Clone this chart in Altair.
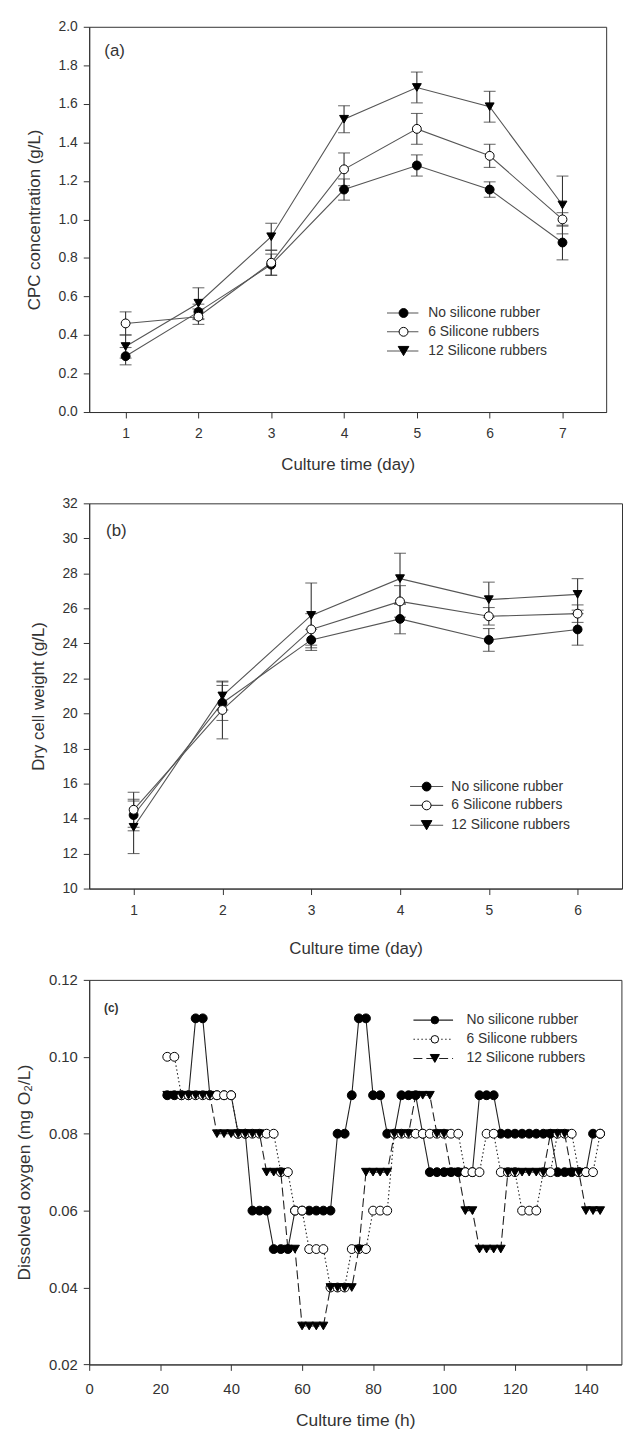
import altair as alt
import pandas as pd

FONT = "Liberation Sans"
INK = "#333333"
SERIES = ["No silicone rubber", "6 Silicone rubbers", "12 Silicone rubbers"]

# ---------------- (a) CPC concentration ----------------
days_a = [1, 2, 3, 4, 5, 6, 7]
cpc_none = [0.29, 0.52, 0.765, 1.155, 1.28, 1.155, 0.88]
cpc_none_err = [0.045, 0.04, 0.055, 0.055, 0.055, 0.04, 0.09]
cpc_six = [0.46, 0.495, 0.775, 1.26, 1.47, 1.33, 1.0]
cpc_six_err = [0.06, 0.04, 0.065, 0.085, 0.08, 0.06, 0.035]
cpc_twelve = [0.34, 0.565, 0.91, 1.52, 1.685, 1.585, 1.075]
cpc_twelve_err = [0.06, 0.08, 0.07, 0.07, 0.08, 0.08, 0.15]
ticks_a_y = [0.0, 0.2, 0.4, 0.6, 0.8, 1.0, 1.2, 1.4, 1.6, 1.8, 2.0]

# ---------------- (b) Dry cell weight ----------------
days_b = [1, 2, 3, 4, 5, 6]
dcw_none = [14.2, 20.6, 24.2, 25.4, 24.2, 24.8]
dcw_none_err = [0.9, 1.0, 0.6, 0.85, 0.65, 0.9]
dcw_six = [14.5, 20.2, 24.8, 26.4, 25.55, 25.7]
dcw_six_err = [1.0, 1.65, 0.9, 0.9, 0.5, 0.5]
dcw_twelve = [13.5, 21.0, 25.6, 27.7, 26.5, 26.8]
dcw_twelve_err = [1.5, 0.8, 1.85, 1.45, 1.0, 0.9]
ticks_b_y = [10, 12, 14, 16, 18, 20, 22, 24, 26, 28, 30, 32]

# ---------------- (c) Dissolved oxygen ----------------
hours_c = [22, 24, 26, 28, 30, 32, 34, 36, 38, 40,
           42, 44, 46, 48, 50, 52, 54, 56, 58, 60,
           62, 64, 66, 68, 70, 72, 74, 76, 78, 80,
           82, 84, 86, 88, 90, 92, 94, 96, 98, 100,
           102, 104, 106, 108, 110, 112, 114, 116, 118, 120,
           122, 124, 126, 128, 130, 132, 134, 136, 138, 140,
           142, 144]
do_none = [0.09, 0.09, 0.09, 0.09, 0.11, 0.11, 0.09, 0.09, 0.09, 0.09,
           0.08, 0.08, 0.06, 0.06, 0.06, 0.05, 0.05, 0.05, 0.06, 0.06,
           0.06, 0.06, 0.06, 0.06, 0.08, 0.08, 0.09, 0.11, 0.11, 0.09,
           0.09, 0.08, 0.08, 0.09, 0.09, 0.09, 0.08, 0.07, 0.07, 0.07,
           0.07, 0.07, 0.07, 0.07, 0.09, 0.09, 0.09, 0.08, 0.08, 0.08,
           0.08, 0.08, 0.08, 0.08, 0.08, 0.07, 0.07, 0.07, 0.07, 0.07,
           0.08, 0.08]
do_six = [0.10, 0.10, 0.09, 0.09, 0.09, 0.09, 0.09, 0.09, 0.09, 0.09,
          0.08, 0.08, 0.08, 0.08, 0.08, 0.08, 0.07, 0.07, 0.06, 0.06,
          0.05, 0.05, 0.05, 0.04, 0.04, 0.04, 0.05, 0.05, 0.05, 0.06,
          0.06, 0.06, 0.08, 0.08, 0.08, 0.08, 0.08, 0.08, 0.08, 0.08,
          0.08, 0.08, 0.07, 0.07, 0.07, 0.08, 0.08, 0.07, 0.07, 0.07,
          0.06, 0.06, 0.06, 0.07, 0.07, 0.08, 0.08, 0.08, 0.07, 0.07,
          0.07, 0.08]
do_twelve = [0.09, 0.09, 0.09, 0.09, 0.09, 0.09, 0.09, 0.08, 0.08, 0.08,
             0.08, 0.08, 0.08, 0.08, 0.07, 0.07, 0.07, 0.05, 0.05, 0.03,
             0.03, 0.03, 0.03, 0.04, 0.04, 0.04, 0.04, 0.05, 0.07, 0.07,
             0.07, 0.07, 0.08, 0.08, 0.08, 0.09, 0.09, 0.09, 0.08, 0.08,
             0.07, 0.07, 0.06, 0.06, 0.05, 0.05, 0.05, 0.05, 0.07, 0.07,
             0.07, 0.07, 0.07, 0.07, 0.08, 0.08, 0.08, 0.07, 0.07, 0.06,
             0.06, 0.06]
ticks_c_x = [0, 20, 40, 60, 80, 100, 120, 140]
ticks_c_y = [0.02, 0.04, 0.06, 0.08, 0.10, 0.12]


def long_frame(xs, groups):
    rows = []
    for name, vals, errs in groups:
        for i, x in enumerate(xs):
            e = errs[i] if errs is not None else 0.0
            rows.append({"series": name, "x": x, "y": vals[i],
                         "lo": vals[i] - e, "hi": vals[i] + e})
    return pd.DataFrame(rows)


df_a = long_frame(days_a, [(SERIES[0], cpc_none, cpc_none_err),
                           (SERIES[1], cpc_six, cpc_six_err),
                           (SERIES[2], cpc_twelve, cpc_twelve_err)])
df_b = long_frame(days_b, [(SERIES[0], dcw_none, dcw_none_err),
                           (SERIES[1], dcw_six, dcw_six_err),
                           (SERIES[2], dcw_twelve, dcw_twelve_err)])
df_c = long_frame(hours_c, [(SERIES[0], do_none, None),
                            (SERIES[1], do_six, None),
                            (SERIES[2], do_twelve, None)])

shape_scale = alt.Scale(domain=SERIES, range=["circle", "circle", "triangle-down"])
fill_scale = alt.Scale(domain=SERIES, range=["black", "white", "black"])
FILLS = ["black", "white", "black"]
SHAPES = ["circle", "circle", "triangle-down"]
DASHES = [[1, 0], [1.5, 2.5], [9, 4]]


def legend_layers(x1, x2, xm, xt, ys, line_color, dashed, sizes, font_size):
    layers = []
    for i, name in enumerate(SERIES):
        d = pd.DataFrame({"name": [name]})
        rule = alt.Chart(d).mark_rule(
            color=line_color, strokeWidth=1.1,
            strokeDash=DASHES[i] if dashed else [1, 0]
        ).encode(x=alt.value(x1), x2=alt.value(x2), y=alt.value(ys[i]))
        pt = alt.Chart(d).mark_point(
            shape=SHAPES[i], filled=True, fill=FILLS[i], stroke="black",
            strokeWidth=1, size=sizes[i], opacity=1
        ).encode(x=alt.value(xm), y=alt.value(ys[i]))
        txt = alt.Chart(d).mark_text(
            align="left", baseline="middle", font=FONT, fontSize=font_size, color=INK
        ).encode(x=alt.value(xt), y=alt.value(ys[i]), text="name:N")
        layers += [rule, pt, txt]
    return layers


def panel(df, xdom, ydom, xvals, yvals, yfmt, xtitle, ytitle, w, h,
          label, label_pos, label_size, label_weight, legend, dashed,
          errbars, sizes, tick_fs, title_fs, x_label_pad, x_title_pad, line_color):
    xenc = alt.X("x:Q", scale=alt.Scale(domain=xdom, nice=False, zero=False),
                 axis=alt.Axis(values=xvals, title=xtitle, labelFlush=False,
                               labelFontSize=tick_fs, titleFontSize=title_fs,
                               labelPadding=x_label_pad, titlePadding=x_title_pad,
                               format="d"))
    yaxis = alt.Axis(values=yvals, title=ytitle, format=yfmt, labelFontSize=tick_fs,
                     titleFontSize=title_fs, labelPadding=6, titlePadding=15)
    yscale = alt.Scale(domain=ydom, nice=False, zero=False)

    line_kwargs = dict(color=line_color, strokeWidth=1.1)
    line_enc = dict(x=xenc, y=alt.Y("y:Q", scale=yscale, axis=yaxis), detail="series:N")
    if dashed:
        line_enc["strokeDash"] = alt.StrokeDash(
            "series:N", scale=alt.Scale(domain=SERIES, range=DASHES), legend=None)
    lines = alt.Chart(df).mark_line(**line_kwargs).encode(**line_enc)

    layers = [lines]
    if errbars:
        eb = alt.Chart(df).mark_errorbar(
            ticks={"size": 12, "thickness": 1.1, "color": INK},
            rule={"strokeWidth": 1.1, "color": INK},
        ).encode(x=xenc, y=alt.Y("lo:Q", scale=yscale, axis=yaxis), y2="hi:Q")
        layers.append(eb)

    pts = alt.Chart(df).mark_point(filled=True, stroke="black", strokeWidth=1, opacity=1).encode(
        x=xenc, y=alt.Y("y:Q", scale=yscale, axis=yaxis),
        shape=alt.Shape("series:N", scale=shape_scale, legend=None),
        fill=alt.Fill("series:N", scale=fill_scale, legend=None),
        size=alt.Size("series:N", scale=alt.Scale(domain=SERIES, range=sizes), legend=None),
    )
    layers.append(pts)
    layers += legend_layers(*legend, line_color=line_color, dashed=dashed,
                            sizes=sizes, font_size=14)
    lab = alt.Chart(pd.DataFrame({"t": [label]})).mark_text(
        align="left", baseline="middle", font=FONT, fontSize=label_size,
        fontWeight=label_weight, color=INK
    ).encode(x=alt.value(label_pos[0]), y=alt.value(label_pos[1]), text="t:N")
    layers.append(lab)
    return alt.layer(*layers).properties(width=w, height=h)


chart_a = panel(df_a, [0.5, 7.6], [0.0, 2.0], days_a, ticks_a_y, ".1f",
                "Culture time (day)", "CPC concentration (g/L)", 522, 389,
                "(a)", (15.3, 24), 17, "normal",
                (300.7, 332.4, 317.4, 342.4, [289, 308, 327.4]), False, True,
                [80, 80, 115], 14, 17, 9, 16.5, "#555555")
chart_b = panel(df_b, [0.5, 6.5], [10, 32], days_b, ticks_b_y, "d",
                "Culture time (day)", "Dry cell weight (g/L)", 538, 389,
                "(b)", (17, 28.3), 17, "normal",
                (324, 357.4, 340.7, 365.7, [286, 305, 325]), False, True,
                [80, 80, 115], 14, 17, 9, 24, "#555555")
chart_c = panel(df_c, [0, 150], [0.02, 0.12], ticks_c_x, ticks_c_y, ".2f",
                "Culture time (h)", "Dissolved oxygen (mg O\u2082/L)", 537.4, 388.3,
                "(c)", (15, 28.3), 12, "bold",
                (327.4, 367.4, 349, 381, [40.6, 60, 79.3]), True, False,
                [58, 58, 85], 15, 17.5, 11, 15.5, "#222222")

chart = alt.vconcat(chart_a, chart_b, chart_c, spacing=92.2, bounds="flush").properties(
    padding={"left": 7, "top": 4, "right": 0, "bottom": 0}
).configure_view(stroke=INK, strokeWidth=1).configure_axis(
    grid=False, domainColor=INK, tickColor=INK, labelColor=INK, titleColor=INK,
    labelFont=FONT, titleFont=FONT, titleFontWeight="normal", tickSize=6,
    domainWidth=1, tickWidth=1
)

chart.save("out.html", embed_options={"renderer": "svg", "actions": False})
